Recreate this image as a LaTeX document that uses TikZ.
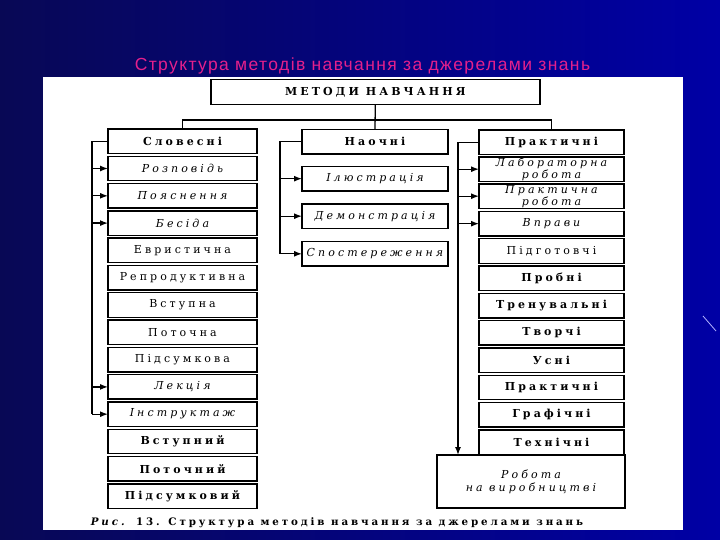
\documentclass[tikz,border=0pt]{standalone}
\usepackage{fontspec}
\setmainfont{DejaVu Serif}[LetterSpace=28]
\newfontfamily\titlefont{Liberation Sans}[LetterSpace=8]
\usetikzlibrary{arrows.meta}
\definecolor{bgleft}{RGB}{8,8,85}
\definecolor{bgright}{RGB}{0,0,165}
\definecolor{titlepink}{RGB}{228,32,140}

\begin{document}
\begin{tikzpicture}[x=1pt,y=-1pt,
	box/.style={draw,line width=1.4pt,inner sep=0,outer sep=0,minimum height=24.5pt,align=center,font=\fontsize{11}{10.5}\selectfont},
	lbox/.style={box,minimum width=149pt},
	mbox/.style={box,minimum width=146pt},
	rbox/.style={box,minimum width=145pt},
	itbox/.style={font=\fontsize{11}{10.5}\selectfont\itshape},
	bfbox/.style={font=\fontsize{11}{10.5}\selectfont\bfseries},
	link/.style={line width=1.3pt},
	arr/.style={link,-{Latex[length=8pt,width=6pt]}}]
	\shade[left color=bgleft,right color=bgright] (0,0) rectangle (720,540);
	\draw[white!70!blue,line width=0.8pt] (703,316) -- (716,331);
	\fill[white] (43,77) rectangle (683,530);
	\node[text=titlepink,font=\titlefont\fontsize{17.5}{19}\selectfont] (title) at (362.5,65.5) {Структура методів навчання за джерелами знань};
	% top
	\node[box,bfbox,minimum width=329pt,minimum height=25pt] (0) at (375.3,91.8) {МЕТОДИ НАВЧАННЯ};
	% left column
	\node[lbox,bfbox] (1) at (182.5,141.3) {Словесні};
	\node[lbox,itbox] (2) at (182.5,168.5) {Розповідь};
	\node[lbox,itbox] (3) at (182.5,195.8) {Пояснення};
	\node[lbox,itbox] (4) at (182.5,223.1) {Бесіда};
	\node[lbox] (5) at (182.5,250.4) {Евристична};
	\node[lbox] (6) at (182.5,277.7) {Репродуктивна};
	\node[lbox] (7) at (182.5,305.0) {Вступна};
	\node[lbox] (8) at (182.5,332.3) {Поточна};
	\node[lbox] (9) at (182.5,359.6) {Підсумкова};
	\node[lbox,itbox] (10) at (182.5,386.9) {Лекція};
	\node[lbox,itbox] (11) at (182.5,414.2) {Інструктаж};
	\node[lbox,bfbox] (12) at (182.5,441.5) {Вступний};
	\node[lbox,bfbox] (13) at (182.5,468.8) {Поточний};
	\node[lbox,bfbox] (14) at (182.5,496.1) {Підсумковий};
	% middle column
	\node[mbox,bfbox] (15) at (375,141.6) {Наочні};
	\node[mbox,itbox] (16) at (375,178.7) {Ілюстрація};
	\node[mbox,itbox] (17) at (375,216.2) {Демонстрація};
	\node[mbox,itbox] (18) at (375,253.8) {Спостереження};
	% right column
	\node[rbox,bfbox] (19) at (551.5,142.2) {Практичні};
	\node[rbox,itbox] (20) at (551.5,169.2) {Лабораторна\\робота};
	\node[rbox,itbox] (21) at (551.5,196.2) {Практична\\робота};
	\node[rbox,itbox] (22) at (551.5,223.7) {Вправи};
	\node[rbox] (23) at (551.5,251.0) {Підготовчі};
	\node[rbox,bfbox] (24) at (551.5,278.3) {Пробні};
	\node[rbox,bfbox] (25) at (551.5,305.6) {Тренувальні};
	\node[rbox,bfbox] (26) at (551.5,332.9) {Творчі};
	\node[rbox,bfbox] (27) at (551.5,360.2) {Усні};
	\node[rbox,bfbox] (28) at (551.5,387.5) {Практичні};
	\node[rbox,bfbox] (29) at (551.5,414.8) {Графічні};
	\node[rbox,bfbox] (30) at (551.5,442.1) {Технічні};
	\node[box,itbox,minimum width=188pt,minimum height=53pt,font=\fontsize{11}{13}\selectfont\itshape] (31) at (531,481.5) {Робота\\на виробництві};
	\node[font=\fontsize{10.3}{11}\selectfont\bfseries] (cap) at (337,523) {\textit{Рис.} 13. Структура методів навчання за джерелами знань};
	% connectors
	\coordinate (bus) at (375,120);
	\coordinate (lb) at (92,141.3);
	\coordinate (mb) at (280,141.6);
	\coordinate (rb) at (458,142.2);
	\draw[link] (1.north) |- (bus) -| (19.north);
	\draw[link] (0.south) -- (15.north);
	\draw[link] (1.west) -- (lb) -- (lb |- 11.west);
	\draw[arr] (lb |- 2.west) -- (2.west);
	\draw[arr] (lb |- 3.west) -- (3.west);
	\draw[arr] (lb |- 4.west) -- (4.west);
	\draw[arr] (lb |- 10.west) -- (10.west);
	\draw[arr] (lb |- 11.west) -- (11.west);
	\draw[link] (15.west) -- (mb) -- (mb |- 18.west);
	\draw[arr] (mb |- 16.west) -- (16.west);
	\draw[arr] (mb |- 17.west) -- (17.west);
	\draw[arr] (mb |- 18.west) -- (18.west);
	\draw[link] (19.west) -- (rb);
	\draw[arr] (rb) -- (rb |- 31.north);
	\draw[arr] (rb |- 20.west) -- (20.west);
	\draw[arr] (rb |- 21.west) -- (21.west);
	\draw[arr] (rb |- 22.west) -- (22.west);
\end{tikzpicture}
\end{document}
